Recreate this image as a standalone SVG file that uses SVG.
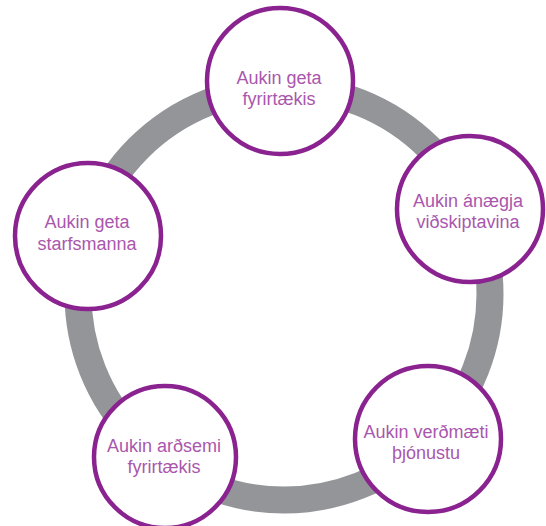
<svg xmlns="http://www.w3.org/2000/svg" width="546" height="526" viewBox="0 0 546 526">
<style>
.node circle{fill:#ffffff;stroke:#8a2290;stroke-width:4.5}
.node text{font-family:"Liberation Sans",Arial,sans-serif;font-size:18px;fill:#a957ad;text-anchor:middle}
.ring{fill:none;stroke:#939598;stroke-width:27}
</style>
<rect width="546" height="526" fill="#ffffff"/>
<g id="connectors">
<circle class="ring" cx="284" cy="294" r="206"/>
</g>
<g id="node-top" class="node">
<circle cx="280" cy="81" r="73"/>
<text x="279" y="84">Aukin geta</text>
<text x="279" y="105">fyrirtækis</text>
</g>
<g id="node-right" class="node">
<circle cx="470" cy="209" r="73"/>
<text x="468" y="207">Aukin ánægja</text>
<text x="468" y="228">viðskiptavina</text>
</g>
<g id="node-bottom-right" class="node">
<circle cx="428" cy="439" r="73"/>
<text x="426" y="438">Aukin verðmæti</text>
<text x="426" y="459">þjónustu</text>
</g>
<g id="node-bottom-left" class="node">
<circle cx="165" cy="457" r="71"/>
<text x="164" y="452">Aukin arðsemi</text>
<text x="164" y="473">fyrirtækis</text>
</g>
<g id="node-left" class="node">
<circle cx="88" cy="236" r="73"/>
<text x="87" y="228">Aukin geta</text>
<text x="87" y="250">starfsmanna</text>
</g>
</svg>
